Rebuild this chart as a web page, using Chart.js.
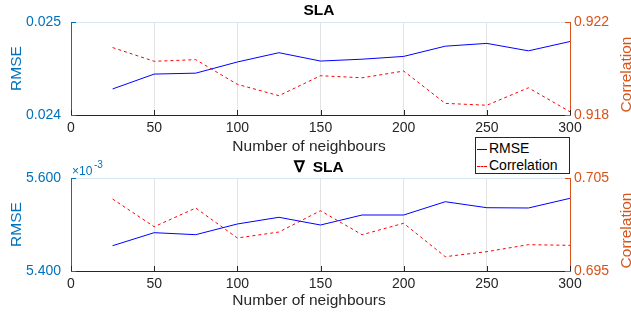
<!DOCTYPE html>
<html>
<head>
  <title>SLA neighbours</title>
  <script src="https://cdn.jsdelivr.net/npm/chart.js"></script>
  <style>
    body { margin: 0; background: #fff; font-family: "Liberation Sans", Arial, sans-serif; }
    #wrap { position: relative; width: 631px; height: 317px; overflow: hidden; }
    canvas { position: absolute; left: 0; }
    #top { top: 0; }
    #bottom { top: 158px; }
    #legend {
      position: absolute; left: 475px; top: 137px; width: 93px; height: 35px;
      border: 1px solid #262626; background: #fff; font-size: 14px; color: #000;
      z-index: 5;
    }
    #legend div { position: absolute; left: 1px; height: 16px; line-height: 16px; white-space: nowrap; }
    #legend span.ln { display: inline-block; width: 10px; vertical-align: middle; margin-right: 2px; }
  </style>
</head>
<body>
<div id="wrap">
  <canvas id="top" width="631" height="158"></canvas>
  <canvas id="bottom" width="631" height="159"></canvas>
  <div id="legend">
    <div style="top:2px"><span class="ln" style="border-top:1px solid #0000ff"></span>RMSE</div>
    <div style="top:19px"><span class="ln" style="border-top:1px dashed #ff0000"></span>Correlation</div>
  </div>
</div>
<script>
  const neighbours = [25, 50, 75, 100, 125, 150, 175, 200, 225, 250, 275, 300];
  const xTicks = [0, 50, 100, 150, 200, 250, 300];

  // SLA
  const slaRmse = [0.02428, 0.02444, 0.02445, 0.02457, 0.02467, 0.02458, 0.02460, 0.02463, 0.02474, 0.02477, 0.02469, 0.02479];
  const slaCorr = [0.92090, 0.92031, 0.92038, 0.91932, 0.91883, 0.91969, 0.91960, 0.91989, 0.91850, 0.91842, 0.91917, 0.91814];
  const slaRmseTicks = [0.024, 0.025];
  const slaCorrTicks = [0.918, 0.922];

  // gradient of SLA
  const gradRmse = [0.0054544, 0.0054824, 0.0054781, 0.0055011, 0.0055155, 0.0054989, 0.0055204, 0.0055204, 0.0055490, 0.0055361, 0.0055355, 0.0055563];
  const gradCorr = [0.70274, 0.69976, 0.70177, 0.69855, 0.69919, 0.70148, 0.69890, 0.70013, 0.69654, 0.69708, 0.69783, 0.69776];
  const gradRmseTicks = [0.0054, 0.0056];
  const gradCorrTicks = [0.695, 0.705];

  const BLUE_AX = '#0072BD';
  const ORANGE_AX = '#D95319';
  const DARK = '#262626';

  Chart.defaults.font.family = '"Liberation Sans", Arial, sans-serif';
  Chart.defaults.font.size = 14;
  Chart.defaults.color = DARK;

  function pts(ys) {
    return neighbours.map((x, i) => ({ x: x, y: ys[i] }));
  }

  // titles, axis labels and inward tick marks
  function decorPlugin(cfg) {
    return {
      id: 'decor',
      afterDraw(chart) {
        const ctx = chart.ctx;
        const a = chart.chartArea;
        const sx = chart.scales.x, sy = chart.scales.y, sy1 = chart.scales.y1;
        ctx.save();
        // top border
        ctx.strokeStyle = '#d6e6f2';
        ctx.lineWidth = 1;
        ctx.beginPath();
        ctx.moveTo(a.left, a.top + 0.5);
        ctx.lineTo(a.right, a.top + 0.5);
        ctx.stroke();
        // inward ticks
        ctx.strokeStyle = DARK;
        sx.ticks.forEach(t => {
          const px = Math.round(sx.getPixelForValue(t.value)) + 0.5;
          ctx.beginPath();
          ctx.moveTo(px, a.bottom);
          ctx.lineTo(px, a.bottom - 5);
          ctx.stroke();
        });
        ctx.strokeStyle = BLUE_AX;
        sy.ticks.forEach(t => {
          const py = Math.round(sy.getPixelForValue(t.value)) + 0.5;
          ctx.beginPath();
          ctx.moveTo(a.left, py);
          ctx.lineTo(a.left + 5, py);
          ctx.stroke();
        });
        ctx.strokeStyle = ORANGE_AX;
        sy1.ticks.forEach(t => {
          const py = Math.round(sy1.getPixelForValue(t.value)) + 0.5;
          ctx.beginPath();
          ctx.moveTo(a.right, py);
          ctx.lineTo(a.right - 5, py);
          ctx.stroke();
        });
        // title
        ctx.fillStyle = '#000';
        ctx.font = 'bold 15.5px "Liberation Sans", Arial, sans-serif';
        ctx.textAlign = 'center';
        ctx.textBaseline = 'alphabetic';
        ctx.fillText(cfg.title, 319, cfg.titleY);
        // x label
        ctx.fillStyle = DARK;
        ctx.font = '15.5px "Liberation Sans", Arial, sans-serif';
        ctx.fillText('Number of neighbours', 309, cfg.xlabelY);
        // y labels
        const midY = (a.top + a.bottom) / 2;
        ctx.save();
        ctx.fillStyle = BLUE_AX;
        ctx.translate(20.5, midY);
        ctx.rotate(-Math.PI / 2);
        ctx.fillText('RMSE', 0, 0);
        ctx.restore();
        ctx.save();
        ctx.fillStyle = ORANGE_AX;
        ctx.translate(631, midY + cfg.corrShift);
        ctx.rotate(-Math.PI / 2);
        ctx.fillText('Correlation', 0, 0);
        ctx.restore();
        // exponent
        if (cfg.exponent) {
          ctx.fillStyle = BLUE_AX;
          ctx.textAlign = 'left';
          ctx.font = '12px "Liberation Sans", Arial, sans-serif';
          ctx.fillText('\u00d710', 72, a.top - 3.5);
          ctx.font = '10px "Liberation Sans", Arial, sans-serif';
          ctx.fillText('-3', 94, a.top - 10);
        }
        ctx.restore();
      }
    };
  }

  function makeChart(id, rmse, corr, rmseTicks, corrTicks, fmt, padTop, xHeight, cfg) {
    return new Chart(document.getElementById(id), {
      type: 'line',
      data: {
        datasets: [
          { label: 'RMSE', data: pts(rmse), yAxisID: 'y', borderColor: '#0000ff', borderWidth: 1, pointRadius: 0, fill: false },
          { label: 'Correlation', data: pts(corr), yAxisID: 'y1', borderColor: '#ff0000', borderWidth: 1, borderDash: [3, 3], pointRadius: 0, fill: false }
        ]
      },
      options: {
        responsive: false,
        animation: false,
        devicePixelRatio: 1,
        layout: { padding: { top: padTop, left: 0, right: 0, bottom: 0 } },
        plugins: { legend: { display: false }, tooltip: { enabled: false }, title: { display: false } },
        scales: {
          x: {
            type: 'linear', min: 0, max: 300,
            afterBuildTicks: s => { s.ticks = xTicks.map(v => ({ value: v })); },
            afterFit: s => { s.height = xHeight; },
            ticks: { padding: 5, color: DARK, maxRotation: 0, callback: v => String(v) },
            grid: { color: '#e3e3e3', drawTicks: false },
            border: { color: DARK, width: 1 }
          },
          y: {
            position: 'left',
            min: rmseTicks[0], max: rmseTicks[1],
            afterBuildTicks: s => { s.ticks = rmseTicks.map(v => ({ value: v })); },
            afterFit: s => { s.width = 71; },
            ticks: { padding: 10, color: BLUE_AX, callback: fmt },
            grid: { display: false, drawTicks: false },
            border: { color: BLUE_AX, width: 1 }
          },
          y1: {
            position: 'right',
            min: corrTicks[0], max: corrTicks[1],
            afterBuildTicks: s => { s.ticks = corrTicks.map(v => ({ value: v })); },
            afterFit: s => { s.width = 61; },
            ticks: { padding: 4, color: ORANGE_AX, callback: v => v.toFixed(3) },
            grid: { display: false, drawTicks: false },
            border: { color: ORANGE_AX, width: 1 }
          }
        }
      },
      plugins: [decorPlugin(cfg)]
    });
  }

  makeChart('top', slaRmse, slaCorr, slaRmseTicks, slaCorrTicks, v => v.toFixed(3), 22, 43,
    { title: 'SLA', titleY: 15, xlabelY: 151, corrShift: 6, exponent: false });
  makeChart('bottom', gradRmse, gradCorr, gradRmseTicks, gradCorrTicks, v => (v * 1000).toFixed(3), 20, 46,
    { title: '\u2207\u2009 SLA', titleY: 14, xlabelY: 147, corrShift: 6, exponent: true });
</script>
</body>
</html>
